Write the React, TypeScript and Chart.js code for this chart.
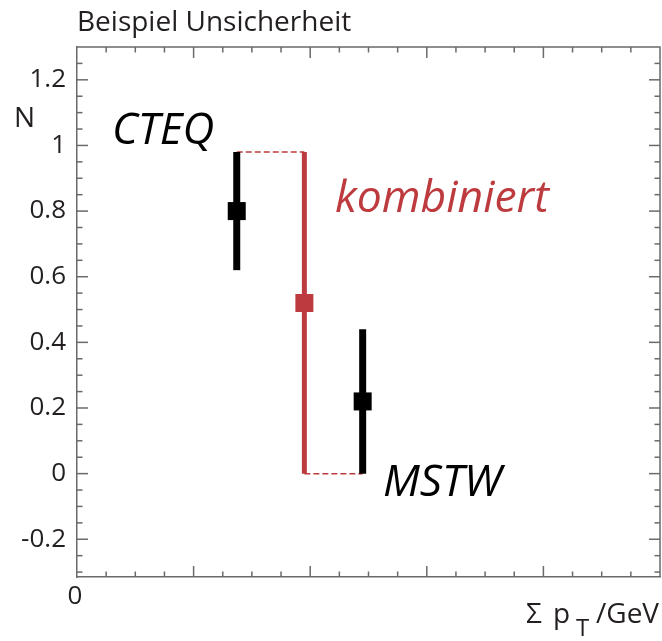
import React, { useEffect, useRef } from 'react';
import { Chart, registerables } from 'chart.js';

Chart.register(...registerables);

// ---- data ----
const seriesNames = ['CTEQ', 'kombiniert', 'MSTW'];
const xPositions = [1.37, 1.95, 2.45];
const centralValues = [0.8, 0.52, 0.22];
const lowerValues = [0.62, 0.0, 0.0];
const upperValues = [0.98, 0.98, 0.44];

const yMajorTicks = [-0.2, 0, 0.2, 0.4, 0.6, 0.8, 1, 1.2];
const yTickLabels = ['-0.2', '0', '0.2', '0.4', '0.6', '0.8', '1', '1.2'];
const xMajorTicks = [0, 1, 2, 3, 4, 5];
const xTickLabels = ['0', '', '', '', '', ''];

const Y_MIN = -0.315;
const Y_MAX = 1.3;
const X_MIN = 0;
const X_MAX = 5;
const Y_MINOR_STEP = 0.05;
const Y_MAJOR_STEP = 0.2;
const X_MINOR_STEP = 0.25;
const X_MAJOR_STEP = 1;

const TITLE = 'Beispiel Unsicherheit';
const Y_TITLE = 'N';

// ---- styles ----
const FONT = "'Open Sans', sans-serif";
const BLACK = '#000000';
const RED = '#bd3b3e';
const AXIS = '#6a6a6a';
const TEXT = '#231f20';

const isMultiple = (v: number, step: number) =>
  Math.abs(v / step - Math.round(v / step)) < 1e-6;

const framePlugin = {
  id: 'frameAndText',
  afterDraw(chart: any) {
    const { ctx, chartArea, scales } = chart;
    const { left, right, top, bottom } = chartArea;
    const xs = scales.x;
    const ys = scales.y;
    ctx.save();
    ctx.strokeStyle = AXIS;
    ctx.lineWidth = 1.5;
    ctx.beginPath();
    ctx.moveTo(left, top);
    ctx.lineTo(right, top);
    ctx.lineTo(right, bottom);
    ctx.stroke();

    const seg = (x1: number, y1: number, x2: number, y2: number) => {
      ctx.beginPath();
      ctx.moveTo(x1, y1);
      ctx.lineTo(x2, y2);
      ctx.stroke();
    };
    for (let k = Math.ceil(Y_MIN / Y_MINOR_STEP); k * Y_MINOR_STEP < Y_MAX - 1e-9; k++) {
      const v = k * Y_MINOR_STEP;
      const py = ys.getPixelForValue(v);
      const len = isMultiple(v, Y_MAJOR_STEP) ? 11 : 5.5;
      seg(left, py, left + len, py);
      seg(right, py, right - len, py);
    }
    for (let k = Math.ceil(X_MIN / X_MINOR_STEP) + 1; k * X_MINOR_STEP < X_MAX - 1e-9; k++) {
      const v = k * X_MINOR_STEP;
      const px = xs.getPixelForValue(v);
      const len = isMultiple(v, X_MAJOR_STEP) ? 11 : 5.5;
      seg(px, bottom, px, bottom - len);
      seg(px, top, px, top + len);
    }

    // text annotations
    ctx.textBaseline = 'alphabetic';
    ctx.textAlign = 'left';
    ctx.fillStyle = BLACK;
    ctx.font = `italic 44px ${FONT}`;
    ctx.fillText(seriesNames[0], 112, 144);
    ctx.font = `italic 44px ${FONT}`;
    ctx.fillText(seriesNames[2], 383, 496);
    ctx.fillStyle = RED;
    ctx.font = `italic 44.5px ${FONT}`;
    ctx.fillText(seriesNames[1], 335, 212);

    ctx.fillStyle = TEXT;
    ctx.font = `28px ${FONT}`;
    ctx.fillText(Y_TITLE, 14, 127);
    // x axis title: Σ p_T /GeV
    ctx.fillText('Σ', 526, 623);
    ctx.fillText('p', 553, 623);
    ctx.fillText('/GeV', 596, 623);
    ctx.font = `24px ${FONT}`;
    ctx.fillText('T', 576, 636);
    ctx.restore();
  },
};

export default function App() {
  const canvasRef = useRef<HTMLCanvasElement | null>(null);

  useEffect(() => {
    if (!canvasRef.current) return;
    const markerData = xPositions.map((x, i) => ({ x, y: centralValues[i] }));
    const markerColors = seriesNames.map((_, i) => (i === 1 ? RED : BLACK));

    const errorBars = xPositions.map((x, i) => ({
      type: 'line' as const,
      label: seriesNames[i] + ' Fehler',
      data: [
        { x, y: lowerValues[i] },
        { x, y: upperValues[i] },
      ],
      borderColor: i === 1 ? RED : BLACK,
      borderWidth: i === 1 ? 5 : 7,
      pointRadius: 0,
      order: 1,
    }));

    const connectors = [
      [
        { x: xPositions[0], y: upperValues[0] },
        { x: xPositions[1], y: upperValues[1] },
      ],
      [
        { x: xPositions[1], y: lowerValues[1] },
        { x: xPositions[2], y: lowerValues[2] },
      ],
    ].map((data, i) => ({
      type: 'line' as const,
      label: 'Verbindung ' + (i + 1),
      data,
      borderColor: RED,
      borderWidth: 1.5,
      borderDash: [6, 3],
      pointRadius: 0,
      order: 2,
    }));

    const chart = new Chart(canvasRef.current, {
      type: 'scatter',
      data: {
        datasets: [
          {
            label: 'Werte',
            data: markerData,
            pointStyle: 'rect',
            pointRadius: 12.73,
            pointHoverRadius: 12.73,
            pointBackgroundColor: markerColors,
            pointBorderWidth: 0,
            order: 0,
          } as any,
          ...errorBars,
          ...connectors,
        ],
      },
      options: {
        responsive: false,
        animation: false,
        events: [],
        layout: { autoPadding: false, padding: { left: 0, right: 2, top: 0, bottom: 0 } },
        plugins: {
          legend: { display: false },
          tooltip: { enabled: false },
          title: {
            display: true,
            fullSize: false,
            text: TITLE,
            align: 'start',
            color: TEXT,
            font: { family: FONT, size: 28, weight: 'normal' },
            padding: { top: 6, bottom: 7.4 },
          },
        },
        scales: {
          x: {
            type: 'linear',
            min: X_MIN,
            max: X_MAX,
            afterBuildTicks: (s: any) => {
              s.ticks = xMajorTicks.map((value) => ({ value }));
            },
            afterFit: (s: any) => {
              s.height = 64;
              s.paddingLeft = 0;
              s.paddingRight = 0;
            },
            ticks: {
              callback: (_v: any, i: number) => xTickLabels[i] ?? '',
              color: TEXT,
              font: { family: FONT, size: 26 },
              padding: 4,
              maxRotation: 0,
              autoSkip: false,
              labelOffset: -2,
            },
            grid: { drawOnChartArea: false, drawTicks: false },
            border: { display: true, color: AXIS, width: 1.5 },
          },
          y: {
            type: 'linear',
            min: Y_MIN,
            max: Y_MAX,
            afterBuildTicks: (s: any) => {
              s.ticks = yMajorTicks.map((value) => ({ value }));
            },
            afterFit: (s: any) => {
              s.width = 77;
              s.paddingTop = 0;
              s.paddingBottom = 0;
            },
            ticks: {
              callback: (_v: any, i: number) => yTickLabels[i] ?? '',
              color: TEXT,
              font: { family: FONT, size: 26 },
              padding: 11,
              autoSkip: false,
            },
            grid: { drawOnChartArea: false, drawTicks: false },
            border: { display: true, color: AXIS, width: 1.5 },
          },
        },
      } as any,
      plugins: [framePlugin],
    });
    return () => chart.destroy();
  }, []);

  return (
    <div style={{ position: 'absolute', left: 0, top: 0, width: 662, height: 641, background: '#ffffff' }}>
      <canvas ref={canvasRef} width={662} height={641} style={{ display: 'block' }} />
    </div>
  );
}
